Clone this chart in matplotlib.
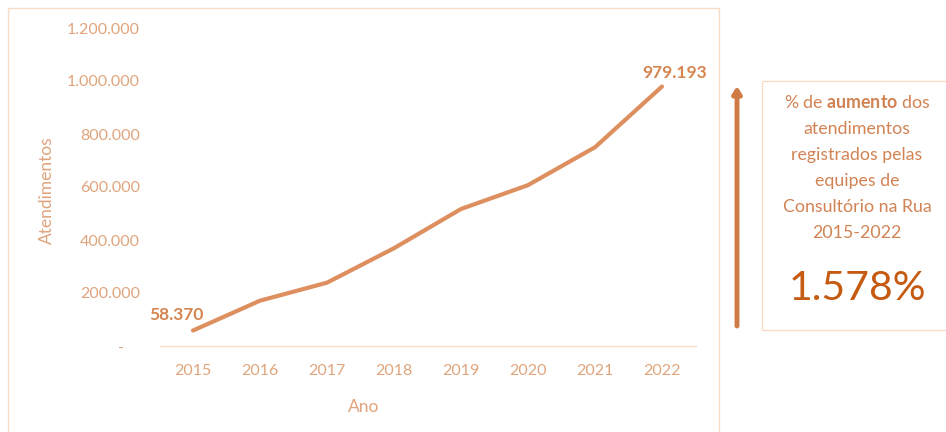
import matplotlib
matplotlib.use("Agg")
import matplotlib.pyplot as plt
from matplotlib.patches import Rectangle, FancyArrowPatch
from matplotlib.ticker import FuncFormatter

# =====================================================
# DATA
# =====================================================

anos = ["2015", "2016", "2017", "2018", "2019", "2020", "2021", "2022"]

atendimentos = [58370, 171000, 239000, 369000, 517000, 607000, 750000, 979193]

y_ticks = [0, 200000, 400000, 600000, 800000, 1000000, 1200000]

box_lines = [
    "atendimentos",
    "registrados pelas",
    "equipes de",
    "Consultório na Rua",
    "2015-2022",
]

aumento = "1.578%"

# =====================================================
# STYLE
# =====================================================

plt.rcParams["font.family"] = ["Lato", "DejaVu Sans"]
plt.rcParams["mathtext.fontset"] = "custom"
plt.rcParams["mathtext.rm"] = "Lato"
plt.rcParams["mathtext.bf"] = "Lato:bold"

c_line = "#DE8F5F"
c_tick = "#E0A47C"
c_label = "#D5854F"
c_text = "#D28354"
c_big = "#C55A11"
c_arrow = "#D07A45"
c_border = "#F8DCC8"

W, H = 946, 432

fig = plt.figure(figsize=(9.46, 4.32), dpi=100)


def fx(px):
    return px / W


def fy(py):
    return 1 - py / H


# outer chart frame
fig.patches.append(
    Rectangle(
        (fx(8), fy(440)),
        fx(719) - fx(8),
        fy(8) - fy(440),
        transform=fig.transFigure,
        fill=False,
        edgecolor=c_border,
        linewidth=1,
    )
)

# =====================================================
# PLOT
# =====================================================

ax = fig.add_axes([fx(159.5), fy(346), fx(695.5) - fx(159.5), fy(28) - fy(346)])

x = list(range(len(anos)))

ax.plot(x, atendimentos, color=c_line, linewidth=3, solid_capstyle="round")

ax.set_xlim(-0.5, len(anos) - 0.5)
ax.set_ylim(0, 1200000)

ax.set_xticks(x)
ax.set_xticklabels(anos)
ax.set_yticks(y_ticks)


def fmt(v, pos):
    if v == 0:
        return "-    "
    return f"{int(v):,}".replace(",", ".")


ax.yaxis.set_major_formatter(FuncFormatter(fmt))

ax.tick_params(axis="both", length=0, labelsize=11.5, labelcolor=c_tick)
ax.tick_params(axis="y", pad=14)
ax.tick_params(axis="x", pad=13)

for s in ["top", "right", "left"]:
    ax.spines[s].set_visible(False)
ax.spines["bottom"].set_color(c_border)
ax.spines["bottom"].set_linewidth(1)

ax.set_xlabel("Ano", fontsize=12.5, color=c_tick)
ax.xaxis.set_label_coords(0.3815, -0.167)
ax.set_ylabel("Atendimentos", fontsize=12.5, color=c_tick)
ax.yaxis.set_label_coords(-0.195, 0.49)

# data labels
first = f"{atendimentos[0]:,}".replace(",", ".")
last = f"{atendimentos[-1]:,}".replace(",", ".")

ax.annotate(
    first,
    (x[0], atendimentos[0]),
    xytext=(-17, 16),
    textcoords="offset pixels",
    ha="center",
    va="center",
    fontsize=12.5,
    fontweight="bold",
    color=c_label,
)

ax.annotate(
    last,
    (x[-1], atendimentos[-1]),
    xytext=(13, 14),
    textcoords="offset pixels",
    ha="center",
    va="center",
    fontsize=12.5,
    fontweight="bold",
    color=c_label,
)

# =====================================================
# ARROW + BOX
# =====================================================

fig.add_artist(
    FancyArrowPatch(
        (fx(737), fy(326)),
        (fx(737), fy(86)),
        transform=fig.transFigure,
        arrowstyle="-|>,head_length=4,head_width=2.5",
        color=c_arrow,
        linewidth=3.5,
        shrinkA=0,
        shrinkB=0,
    )
)

fig.patches.append(
    Rectangle(
        (fx(762), fy(330)),
        fx(950) - fx(762),
        fy(81) - fy(330),
        transform=fig.transFigure,
        fill=False,
        edgecolor=c_border,
        linewidth=1,
    )
)

cx = fx(857)

fig.text(
    cx, fy(103), r"% de $\mathbf{aumento}$ dos",
    ha="center", va="center", fontsize=12.8, color=c_text,
)

for i, line in enumerate(box_lines):
    fig.text(
        cx, fy(129 + 26 * i), line,
        ha="center", va="center", fontsize=12.8, color=c_text,
    )

fig.text(
    cx, fy(288), aumento,
    ha="center", va="center", fontsize=29.5, color=c_big,
)

fig.savefig("out.png", dpi=100)
